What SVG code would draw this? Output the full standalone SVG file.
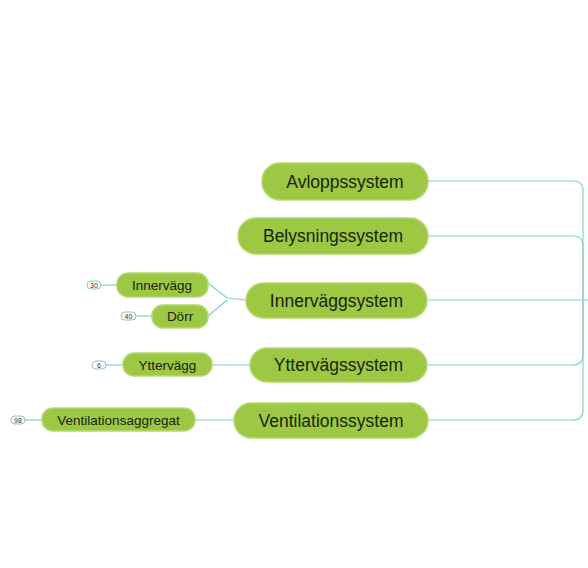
<svg xmlns="http://www.w3.org/2000/svg" width="588" height="568" viewBox="0 0 588 568">
<style>
.n{fill:#9cc843;stroke:#b5d873;stroke-width:1.5}
.t{font-family:"Liberation Sans",Arial,sans-serif;fill:#1a2410;text-anchor:middle}
.big{font-size:17.5px}
.sm{font-size:13.5px}
.c{fill:none;stroke:#86d0cc;stroke-width:1.2}
.b{fill:#fff;stroke:#7fbfbb;stroke-width:0.9}
.bt{font-family:"Liberation Sans",Arial,sans-serif;font-size:7px;fill:#333;text-anchor:middle}
</style>
<rect width="588" height="568" fill="#fff"/>
<g id="connectors">
<path class="c" d="M428,181 H573 Q583,181 583,191 V410 Q583,420 573,420 H428"/>
<path class="c" d="M428,236 H573 Q583,236 583,246 V355 Q583,365 573,365 H428"/>
<path class="c" d="M428,300 H588"/>
<path class="c" d="M208,283 L227,298 L246,300"/>
<path class="c" d="M208,316 L227,300"/>
<path class="c" d="M212,365 H250"/>
<path class="c" d="M195,420 H234"/>
<path class="c" d="M101,285 H117"/>
<path class="c" d="M136,316 H152"/>
<path class="c" d="M106,365 H123"/>
<path class="c" d="M25,420 H42"/>
</g>
<g id="avlopp"><rect class="n" x="262" y="163" width="166" height="37" rx="18"/><text class="t big" x="345" y="187.5">Avloppssystem</text></g>
<g id="belysning"><rect class="n" x="238" y="218" width="190" height="36" rx="18"/><text class="t big" x="333" y="242">Belysningssystem</text></g>
<g id="innervaggsystem"><rect class="n" x="246" y="283" width="181" height="35" rx="17.5"/><text class="t big" x="336.5" y="306.5">Innerväggsystem</text></g>
<g id="yttervagssystem"><rect class="n" x="250" y="348" width="177" height="34" rx="17"/><text class="t big" x="338.5" y="371">Yttervägssystem</text></g>
<g id="ventilationssystem"><rect class="n" x="234" y="403" width="194" height="35" rx="17.5"/><text class="t big" x="331" y="426.5">Ventilationssystem</text></g>
<g id="innervagg"><rect class="n" x="117" y="273" width="91" height="24" rx="11"/><text class="t sm" x="162" y="289.5">Innervägg</text></g>
<g id="dorr"><rect class="n" x="152" y="305" width="56" height="23" rx="11"/><text class="t sm" x="180" y="321">Dörr</text></g>
<g id="yttervagg"><rect class="n" x="123" y="353" width="89" height="23" rx="11"/><text class="t sm" x="167.5" y="369.5">Yttervägg</text></g>
<g id="ventilationsaggregat"><rect class="n" x="42" y="408" width="153" height="23" rx="11"/><text class="t sm" x="118.5" y="424.5">Ventilationsaggregat</text></g>
<g id="badge30"><rect class="b" x="87" y="281" width="14" height="8" rx="4"/><text class="bt" x="94" y="287.5">30</text></g>
<g id="badge40"><rect class="b" x="121" y="312" width="15" height="8" rx="4"/><text class="bt" x="128.5" y="318.5">40</text></g>
<g id="badge6"><rect class="b" x="92" y="361" width="14" height="8" rx="4"/><text class="bt" x="99" y="367.5">6</text></g>
<g id="badge98"><rect class="b" x="11" y="416" width="14" height="8" rx="4"/><text class="bt" x="18" y="422.5">98</text></g>
</svg>
